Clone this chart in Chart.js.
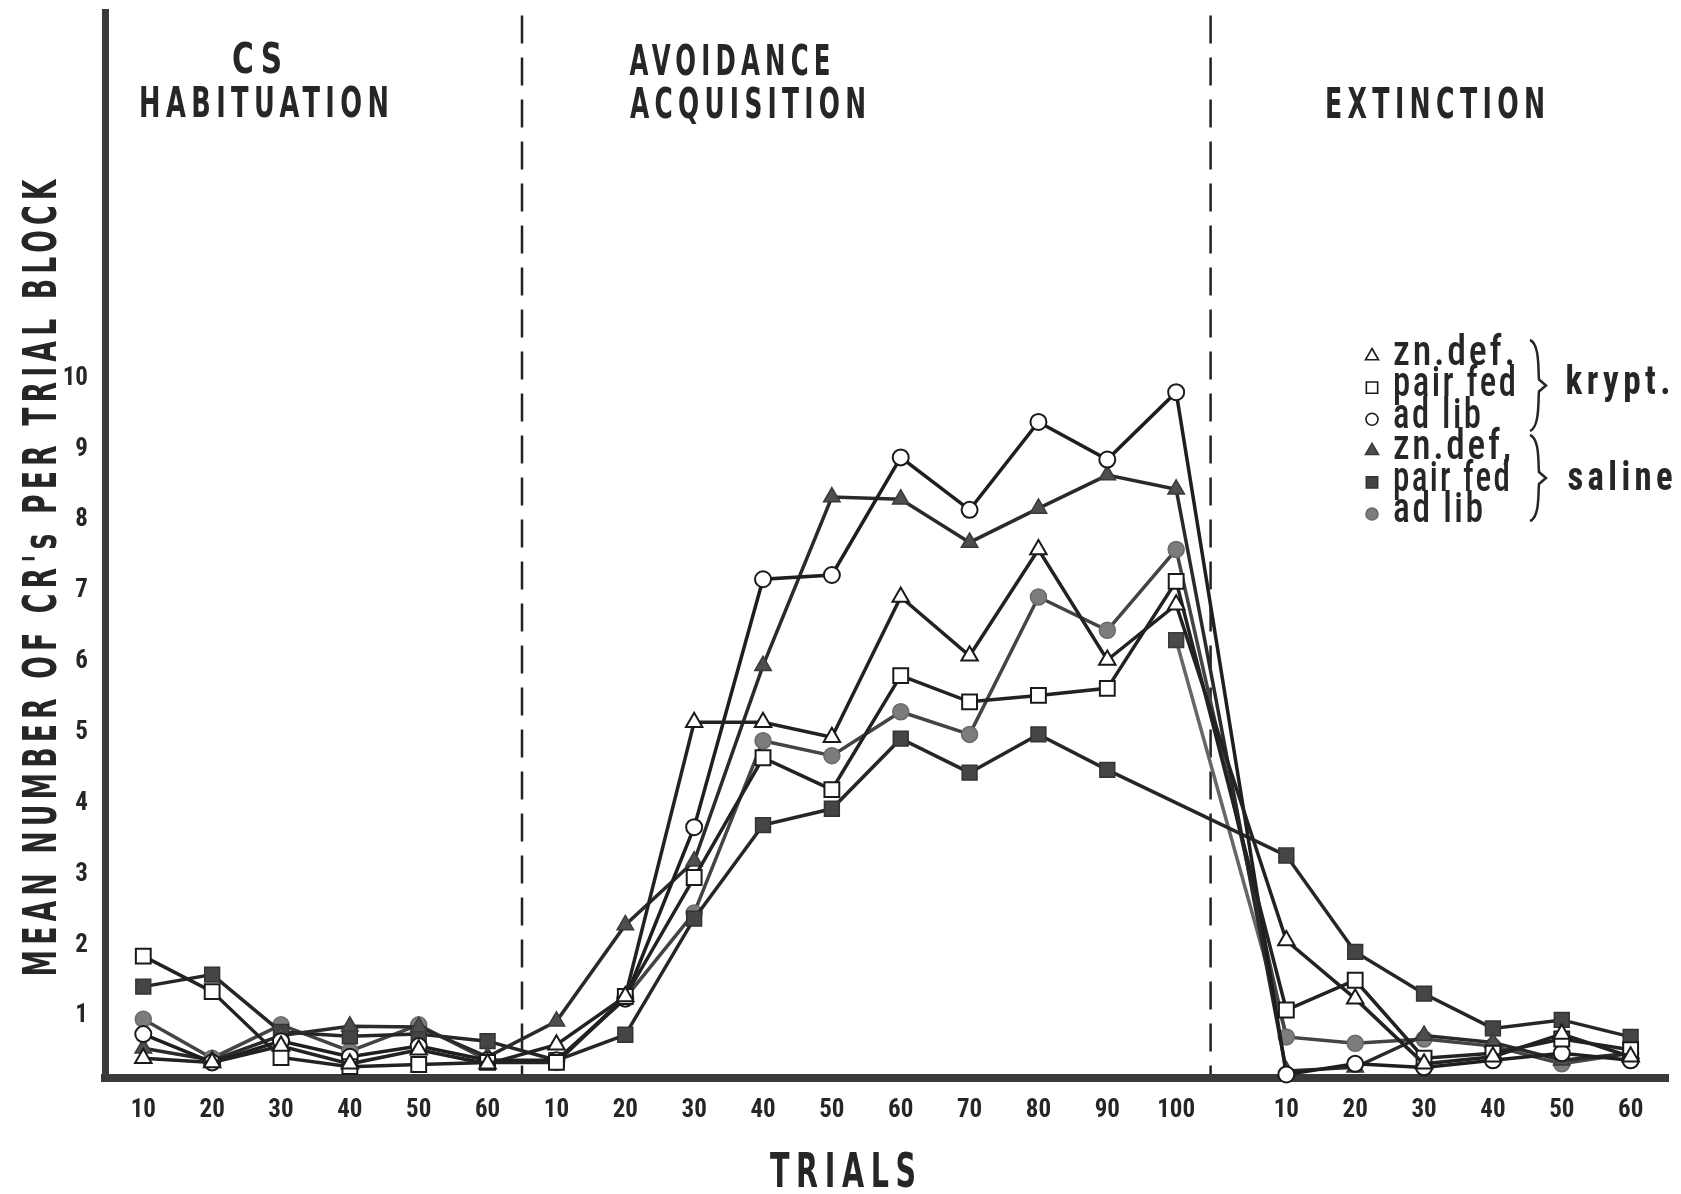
<!DOCTYPE html>
<html>
<head>
<meta charset="utf-8">
<title>Mean number of CR's per trial block</title>
<script src="https://cdn.jsdelivr.net/npm/chart.js@4.4.1/dist/chart.umd.min.js"></script>
<style>
  html, body { margin: 0; padding: 0; background: #fff; }
  canvas { display: block; }
</style>
</head>
<body>
<canvas id="myChart" width="1681" height="1194"></canvas>
<script>
// trial blocks of each phase
const habituationTrials = [10, 20, 30, 40, 50, 60];
const acquisitionTrials = [10, 20, 30, 40, 50, 60, 70, 80, 90, 100];
const extinctionTrials = [10, 20, 30, 40, 50, 60];
const phaseTitles = [['CS', 'HABITUATION'], ['AVOIDANCE', 'ACQUISITION'], ['EXTINCTION']];

// mean CR's per block: 6 habituation + 10 acquisition + 6 extinction values
const kryptZnDef   = [0.28, 0.22, 0.45, 0.20, 0.40, 0.20,  0.47, 1.15, 5.02, 5.02, 4.81, 6.79, 5.96, 7.46, 5.90, 6.68,  1.94, 1.12, 0.20, 0.30, 0.62, 0.30];
const kryptPairFed = [1.72, 1.22, 0.29, 0.16, 0.19, 0.22,  0.22, 1.15, 2.83, 4.52, 4.07, 5.68, 5.31, 5.40, 5.50, 7.01,  0.96, 1.38, 0.28, 0.35, 0.55, 0.40];
const kryptAdLib   = [0.62, 0.22, 0.52, 0.30, 0.45, 0.25,  0.25, 1.12, 3.54, 7.04, 7.10, 8.76, 8.02, 9.26, 8.73, 9.68,  0.05, 0.20, 0.15, 0.25, 0.35, 0.25];
const salineZnDef  = [0.42, 0.25, 0.60, 0.73, 0.72, 0.30,  0.80, 2.16, 3.06, 5.82, 8.20, 8.17, 7.56, 8.04, 8.51, 8.31,  0.10, 0.15, 0.60, 0.50, 0.25, 0.35];
const salinePairFed = [1.29, 1.46, 0.65, 0.59, 0.62, 0.52,  0.25, 0.61, 2.25, 3.57, 3.80, 4.79, 4.31, 4.85, 4.35, null,  3.14, 1.78, 1.19, 0.70, 0.82, 0.58];
const salineAdLib  = [0.83, 0.28, 0.75, 0.38, 0.75, 0.25,  0.22, 1.13, 2.33, 4.76, 4.55, 5.17, 4.85, 6.79, 6.32, 7.46,  0.58, 0.49, 0.55, 0.45, 0.20, 0.35];
// the pair fed (saline) square at 100 trials is drawn on its own segment in the original
const salinePairFed100 = [null, null, null, null, null, null,  null, null, null, null, null, null, null, null, null, 6.18,  0.60, null, null, null, null, null];

const yTicks = [1, 2, 3, 4, 5, 6, 7, 8, 9, 10];
const legendLabels = ['zn.def.', 'pair fed', 'ad lib', 'zn.def,', 'pair fed', 'ad lib'];
const groupLabels = ['krypt.', 'saline'];

const NARROW = "'DejaVu Sans Condensed', 'Roboto Condensed', 'Liberation Sans', sans-serif";
const CONDENSED = "'Roboto Condensed', 'DejaVu Sans Condensed', sans-serif";
const INK = '#262626';

// x position of every block (extinction is set off by a wider gap)
const EXT_START = 16.6;
const xPos = [
  ...habituationTrials.map((t, i) => i),
  ...acquisitionTrials.map((t, i) => habituationTrials.length + i),
  ...extinctionTrials.map((t, i) => EXT_START + i)
];
const tickLabels = [...habituationTrials, ...acquisitionTrials, ...extinctionTrials];
const boundaries = [habituationTrials.length - 0.5, habituationTrials.length + acquisitionTrials.length - 0.5];

const toPoints = vals => vals.map((v, i) => ({ x: xPos[i], y: v }));

const openMarker = { pointBackgroundColor: '#fff', pointBorderColor: '#1a1a1a', pointBorderWidth: 2 };

const datasets = [
  { label: 'zn.def. krypt.', data: toPoints(kryptZnDef), pointStyle: 'triangle', pointRadius: 9.5, borderColor: '#222', ...openMarker },
  { label: 'pair fed krypt.', data: toPoints(kryptPairFed), pointStyle: 'rect', pointRadius: 10.5, borderColor: '#222', ...openMarker },
  { label: 'ad lib krypt.', data: toPoints(kryptAdLib), pointStyle: 'circle', pointRadius: 8, borderColor: '#1e1e1e', ...openMarker },
  { label: 'zn.def. saline', data: toPoints(salineZnDef), pointStyle: 'triangle', pointRadius: 9.5, borderColor: '#2a2a2a',
    pointBackgroundColor: '#4e4e4e', pointBorderColor: '#3a3a3a', pointBorderWidth: 1.5 },
  { label: 'pair fed saline', data: toPoints(salinePairFed), pointStyle: 'rect', pointRadius: 10.5, borderColor: '#262626', spanGaps: true,
    pointBackgroundColor: '#454545', pointBorderColor: '#333', pointBorderWidth: 1.5 },
  { label: 'ad lib saline', data: toPoints(salineAdLib), pointStyle: 'circle', pointRadius: 8, borderColor: '#444',
    pointBackgroundColor: '#7c7c7c', pointBorderColor: '#6a6a6a', pointBorderWidth: 1.5 },
  { label: 'pair fed saline (100)', data: toPoints(salinePairFed100), pointStyle: 'rect', borderColor: '#666',
    pointRadius: c => (c.dataIndex === 15 ? 10.5 : 0),
    pointBackgroundColor: '#4a4a4a', pointBorderColor: '#3a3a3a', pointBorderWidth: 1.5 }
].map(d => ({ borderWidth: 3.5, fill: false, tension: 0, clip: false, ...d }));

function fitText(ctx, text, cx, baseline, size, width, weight, spacing, family) {
  ctx.save();
  ctx.font = `${weight} ${size}px ${family || NARROW}`;
  ctx.letterSpacing = spacing + 'px';
  const natural = ctx.measureText(text).width - spacing;
  ctx.translate(cx - width / 2, baseline);
  ctx.scale(width / natural, 1);
  ctx.textAlign = 'left';
  ctx.textBaseline = 'alphabetic';
  ctx.fillStyle = INK;
  ctx.fillText(text, 0, 0);
  ctx.restore();
}

function brace(ctx, x, top, bottom) {
  const mid = (top + bottom) / 2;
  ctx.beginPath();
  ctx.moveTo(x - 6, top);
  ctx.bezierCurveTo(x + 4, top + 4, x + 2, mid - 14, x + 3, mid - 6);
  ctx.lineTo(x + 10, mid);
  ctx.lineTo(x + 3, mid + 6);
  ctx.bezierCurveTo(x + 2, mid + 14, x + 4, bottom - 4, x - 6, bottom);
  ctx.stroke();
}

const decor = {
  id: 'decor',
  beforeDatasetsDraw(chart) {
    const { ctx, chartArea, scales: { x } } = chart;
    ctx.save();
    ctx.strokeStyle = '#222';
    ctx.lineWidth = 2.5;
    ctx.setLineDash([28, 14]);
    boundaries.forEach(b => {
      const px = x.getPixelForValue(b);
      ctx.beginPath();
      ctx.moveTo(px, chartArea.top + 3);
      ctx.lineTo(px, chartArea.bottom - 4);
      ctx.stroke();
    });
    ctx.restore();
  },
  afterDraw(chart) {
    const { ctx } = chart;
    // phase titles
    fitText(ctx, phaseTitles[0][0], 257, 73, 42, 50, 'bold', 8);
    fitText(ctx, phaseTitles[0][1], 264, 117, 42, 250, 'bold', 8);
    fitText(ctx, phaseTitles[1][0], 730, 75, 42, 201, 'bold', 8);
    fitText(ctx, phaseTitles[1][1], 748, 118, 42, 236, 'bold', 8);
    fitText(ctx, phaseTitles[2][0], 1435, 118, 42, 220, 'bold', 8);
    // axis titles
    fitText(ctx, 'TRIALS', 843, 1187, 48, 146, 'bold', 10);
    ctx.save();
    ctx.translate(56, 578);
    ctx.rotate(-Math.PI / 2);
    fitText(ctx, "MEAN NUMBER OF CR's PER TRIAL BLOCK", 0, 0, 46, 797, 'bold', 8);
    ctx.restore();

    // legend
    const symX = 1372;
    const widths = [122, 123, 88, 118, 117, 90];
    legendLabels.forEach((lab, i) => {
      const ds = chart.data.datasets[i];
      const sy = 356 + i * 31.6;
      const r = ds.pointStyle === 'rect' ? 8 : ds.pointStyle === 'triangle' ? 7.5 : 6;
      ctx.save();
      ctx.fillStyle = ds.pointBackgroundColor;
      ctx.strokeStyle = ds.pointBorderColor;
      ctx.lineWidth = 1.6;
      Chart.helpers.drawPoint(ctx, { pointStyle: ds.pointStyle, radius: r, borderWidth: 1.6, rotation: 0 }, symX, sy);
      ctx.restore();
      fitText(ctx, lab, 1393 + widths[i] / 2, 365 + i * 31.4, 42, widths[i], '500', 3, CONDENSED);
    });
    ctx.save();
    ctx.strokeStyle = INK;
    ctx.lineWidth = 2.5;
    brace(ctx, 1536, 340, 431);
    brace(ctx, 1536, 435, 521);
    ctx.restore();
    fitText(ctx, groupLabels[0], 1618, 394, 40, 105, 'bold', 5, CONDENSED);
    fitText(ctx, groupLabels[1], 1620, 490, 40, 105, 'bold', 5, CONDENSED);
  }
};

const tickFont = { family: CONDENSED, size: 25, weight: 'bold' };

new Chart(document.getElementById('myChart').getContext('2d'), {
  type: 'line',
  data: { datasets },
  options: {
    responsive: false,
    animation: false,
    events: [],
    layout: { padding: { top: 10, left: 0, right: 0, bottom: 0 } },
    plugins: { legend: { display: false }, tooltip: { enabled: false } },
    scales: {
      x: {
        type: 'linear',
        min: -0.556,
        max: 22.15,
        grid: { display: false, drawTicks: false },
        border: { color: '#3a3a3a', width: 8 },
        afterBuildTicks: s => { s.ticks = xPos.map(v => ({ value: v })); },
        afterFit: s => { s.height = 116; s.paddingLeft = 0; s.paddingRight = 0; },
        ticks: { autoSkip: false, maxRotation: 0, padding: 18, color: INK, font: tickFont,
          callback: (v, i) => tickLabels[i] }
      },
      y: {
        min: 0,
        max: 15.04,
        grid: { display: false, drawTicks: false },
        border: { color: '#3a3a3a', width: 7 },
        afterBuildTicks: s => { s.ticks = yTicks.map(v => ({ value: v })); },
        afterFit: s => { s.width = 105; s.paddingTop = 0; s.paddingBottom = 0; },
        ticks: { padding: 17, labelOffset: 9, color: INK, font: tickFont }
      }
    }
  },
  plugins: [decor]
});
</script>
</body>
</html>
